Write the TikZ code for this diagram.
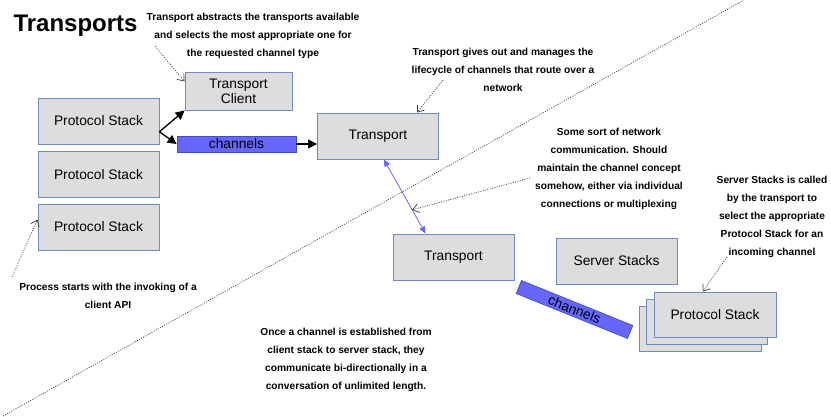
\documentclass[tikz,border=0pt]{standalone}
\usepackage{fontspec}
\setmainfont{Liberation Sans}
\usepackage{tikz}
\usetikzlibrary{arrows.meta}
\usepackage{xcolor}

\definecolor{boxfill}{RGB}{221,221,221}
\definecolor{boxline}{RGB}{108,140,195}
\definecolor{chanfill}{RGB}{102,102,255}
\definecolor{chanline}{RGB}{64,80,180}
\definecolor{noteline}{RGB}{60,60,60}

\begin{document}
\begin{tikzpicture}[x = 1pt, y = -1pt,
        box/.style = {draw=boxline, fill=boxfill, line width=0.9pt, inner sep=0pt,
            minimum width=121pt, minimum height=46pt, align=center,
            font=\fontsize{13.8}{15}\selectfont},
        chan/.style = {draw=chanline, fill=chanfill, line width=0.7pt, inner sep=0pt,
            minimum width=119pt, minimum height=16pt,
            font=\fontsize{13.8}{15}\selectfont},
        note/.style = {align=center, inner sep=0pt,
            font=\bfseries\fontsize{10.2}{18}\selectfont},
        notearrow/.style = {draw=noteline, line width=0.7pt,
            dash pattern=on 1pt off 1.4pt, -{Straight Barb[length=6pt,width=9pt]}},
        flow/.style = {line width=1.3pt, -{Triangle[length=9pt,width=9pt]}}]
        \useasboundingbox (0, 0) rectangle (831, 416);
        \node[anchor = base west, font = \bfseries\fontsize{24}{28}\selectfont] (title) at (10, 31) {Transports};
        % client side
        \node[box] (ps1) at (98.5, 121) {Protocol Stack};
        \node[box] (ps2) at (98.5, 174.5) {Protocol Stack};
        \node[box] (ps3) at (98.5, 227) {Protocol Stack};
        \node[box, minimum width = 107pt, minimum height = 38pt] (tc) at (238.5, 91) {Transport\\Client};
        \node[chan] (ch1) at (236.5, 144) {channels};
        \node[box] (tr1) at (378, 136) {Transport};
        % server side
        \node[box] (tr2) at (453.5, 257) {Transport};
        \node[box] (ss) at (616.5, 261) {Server Stacks};
        \node[chan, rotate = -22, minimum width = 120pt, minimum height = 14pt] (ch2) at (574.5, 309.5) {channels};
        \node[box, minimum width = 122pt, minimum height = 45pt] (ps4) at (700, 329) {};
        \node[box, minimum width = 121pt, minimum height = 45pt] (ps5) at (707, 321.5) {};
        \node[box, minimum width = 122pt, minimum height = 45pt] (ps6) at (715, 314.5) {Protocol Stack};
        % the boundary
        \draw[noteline, line width = 0.7pt, dash pattern = on 1pt off 1.4pt] (3, 416) -- (744, 0);
        % flow
        \draw[flow] (ps1.-10) -- (tc.south west);
        \draw[flow] (ps1.-10) -- (ch1.west);
        \draw[flow] (ch1.east) -- (ch1.east -| tr1.west);
        \draw[chanfill, line width = 0.8pt, {Triangle[length=7pt,width=6pt]}-{Triangle[length=7pt,width=6pt]}]
            (tr1.-76) -- coordinate[pos = 0.68] (link) (tr2.140);
        % notes
        \node[note] (n1) at (253, 36) {Transport abstracts the transports available\\and selects the most appropriate one for\\the requested channel type};
        \node[note] (n2) at (503, 70) {Transport gives out and manages the\\lifecycle of channels that route over a\\network};
        \node[note] (n3) at (609, 169) {Some sort of network\\communication. Should\\maintain the channel concept\\somehow, either via individual\\connections or multiplexing};
        \node[note] (n4) at (772, 217) {Server Stacks is called\\by the transport to\\select the appropriate\\Protocol Stack for an\\incoming channel};
        \node[note] (n5) at (108, 296) {Process starts with the invoking of a\\client API};
        \node[note] (n6) at (346, 360) {Once a channel is established from\\client stack to server stack, they\\communicate bi-directionally in a\\conversation of unlimited length.};
        \coordinate (s1) at (155, 46);
        \coordinate (s2) at (443, 80);
        \coordinate (s3) at (530, 178);
        \coordinate (s4) at (727, 257);
        \coordinate (s5) at (12, 277);
        \draw[notearrow] (s1) -- (tc.170);
        \draw[notearrow] (s2) -- (tr1.31);
        \draw[notearrow] (s3) -- (link);
        \draw[notearrow] (s4) -- (ps6.118);
        \draw[notearrow] (s5) -- (ps3.173);
    \end{tikzpicture}
\end{document}
